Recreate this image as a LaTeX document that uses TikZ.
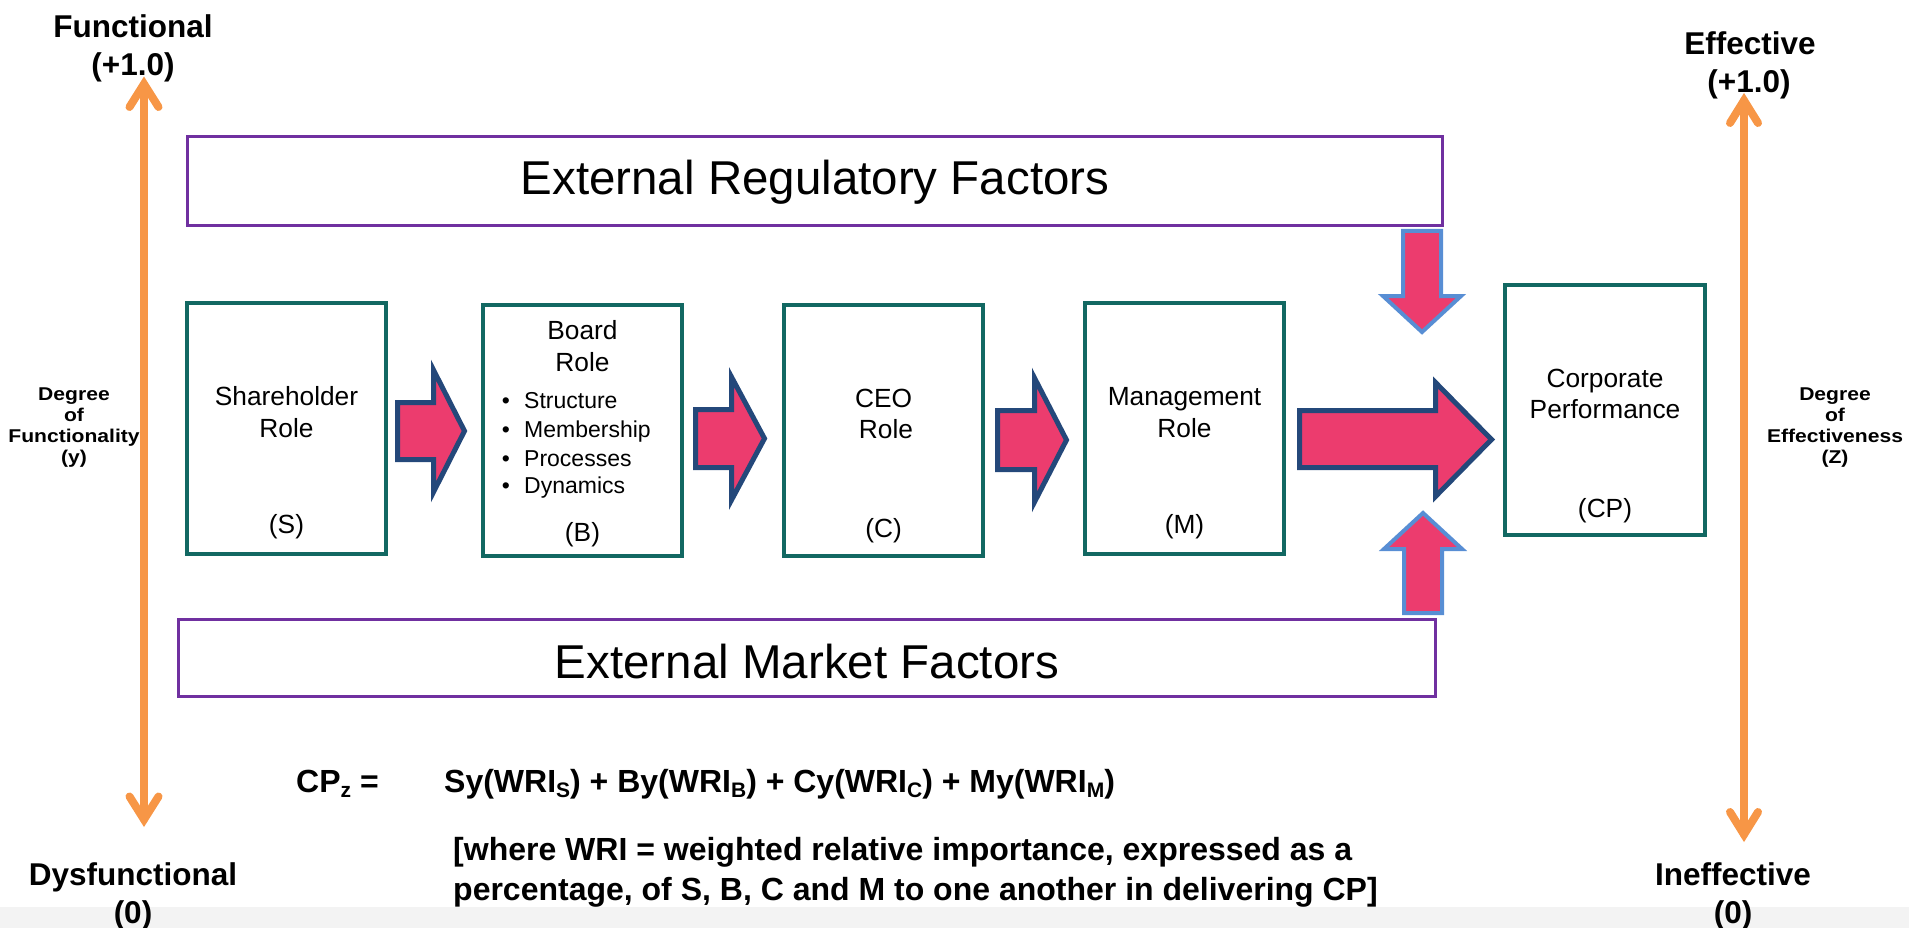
\documentclass[tikz,border=0pt]{standalone}
\usepackage{fontspec}
\setmainfont{Liberation Sans}
\newfontface\degreefont[FakeStretch=1.14]{Liberation Sans Bold}
\usetikzlibrary{calc}

\definecolor{roleteal}{RGB}{18,104,98}
\definecolor{framepurple}{RGB}{112,48,160}
\definecolor{axisorange}{RGB}{247,150,70}
\definecolor{arrowpink}{RGB}{236,60,110}
\definecolor{arrownavy}{RGB}{36,72,122}
\definecolor{arrowsky}{RGB}{88,142,212}
\definecolor{bandgray}{RGB}{243,243,243}

% lowered subscript in the current (bold) text font
\newcommand\lowsub[1]{\raisebox{-5pt}{\fontsize{21}{21}\selectfont #1}}

\begin{document}
\begin{tikzpicture}[x=1pt,y=-1pt,
  rolebox/.style={draw=roleteal, line width=4pt, inner sep=0pt, minimum width=199pt, minimum height=251pt},
  framebox/.style={draw=framepurple, line width=3pt, inner sep=0pt},
  txt/.style={anchor=base, inner sep=0pt},
  boxtxt/.style={txt, font=\fontsize{26.3}{31}\selectfont},
  bullettxt/.style={txt, anchor=base west, font=\fontsize{23}{28}\selectfont},
  bulletdot/.style={txt, font=\fontsize{23}{28}\selectfont},
  axislbl/.style={txt, font=\fontsize{31.5}{38}\selectfont\bfseries},
  degreelbl/.style={txt, font=\fontsize{18.5}{21}\degreefont},
  titletxt/.style={txt, font=\fontsize{47.5}{57}\selectfont},
  formtxt/.style={txt, anchor=base west, font=\fontsize{32}{40}\selectfont\bfseries},
  flowarrow/.style={fill=arrowpink, draw=arrownavy, line width=5pt, line join=miter},
  sidearrow/.style={fill=arrowpink, draw=arrowsky, line width=4pt, line join=miter},
  axisline/.style={draw=axisorange, line width=8pt, line cap=round, line join=miter},
]
\useasboundingbox (0,0) rectangle (1909,928);
\fill[bandgray] (0,907) rectangle (1909,928);

% external factor frames
\node[framebox, minimum width=1255pt, minimum height=89pt] (reg) at (815,181) {};
\node[titletxt] (regtitle) at (815,195) {External Regulatory Factors};
\node[framebox, minimum width=1257pt, minimum height=77pt] (mkt) at (807,658) {};
\node[titletxt] (mkttitle) at (807,678) {External Market Factors};

% role boxes
\node[rolebox] (S) at (286.5,428.5) {};
\node[rolebox] (B) at (582.5,430) {};
\node[rolebox] (C) at (883.5,430) {};
\node[rolebox] (M) at (1184.5,428.5) {};
\node[rolebox, minimum width=200pt, minimum height=250pt] (CP) at (1605,410) {};

\node[boxtxt] (s1) at (286.5,405) {Shareholder};
\node[boxtxt] (s2) at (286.5,437) {Role};
\node[boxtxt] (s3) at (286.5,533) {(S)};

\node[boxtxt] (b1) at (582.5,339) {Board};
\node[boxtxt] (b2) at (582.5,371) {Role};
\node[bulletdot] (d1) at (506,408) {\textbullet};
\node[bullettxt] (b3) at (524,408) {Structure};
\node[bulletdot] (d2) at (506,437) {\textbullet};
\node[bullettxt] (b4) at (524,437) {Membership};
\node[bulletdot] (d3) at (506,466) {\textbullet};
\node[bullettxt] (b5) at (524,466) {Processes};
\node[bulletdot] (d4) at (506,493) {\textbullet};
\node[bullettxt] (b6) at (524,493) {Dynamics};
\node[boxtxt] (b7) at (582.5,541) {(B)};

\node[boxtxt] (c1) at (883.5,407) {CEO};
\node[boxtxt] (c2) at (886,438) {Role};
\node[boxtxt] (c3) at (883.5,537) {(C)};

\node[boxtxt] (m1) at (1184.5,405) {Management};
\node[boxtxt] (m2) at (1184.5,437) {Role};
\node[boxtxt] (m3) at (1184.5,533) {(M)};

\node[boxtxt] (cp1) at (1605,387) {Corporate};
\node[boxtxt] (cp2) at (1605,418) {Performance};
\node[boxtxt] (cp3) at (1605,517) {(CP)};

% block arrows along the chain
\draw[flowarrow] (397.5,402.5) -- (433.5,402.5) -- (433.5,370) -- (464.5,431)
  -- (433.5,492) -- (433.5,459.5) -- (397.5,459.5) -- cycle;
\draw[flowarrow] (695.5,409.5) -- (731.5,409.5) -- (731.5,377) -- (764.5,438.5)
  -- (731.5,500) -- (731.5,467.5) -- (695.5,467.5) -- cycle;
\draw[flowarrow] (997.5,410.5) -- (1034.5,410.5) -- (1034.5,378) -- (1066.5,440)
  -- (1034.5,502) -- (1034.5,469.5) -- (997.5,469.5) -- cycle;
\draw[flowarrow] (1299.5,410.5) -- (1435.5,410.5) -- (1435.5,382.5) -- (1491.5,439.5)
  -- (1435.5,496.5) -- (1435.5,467.5) -- (1299.5,467.5) -- cycle;

% external influences
\draw[sidearrow] (1403,231) -- (1441,231) -- (1441,296) -- (1461,296) -- (1422,332)
  -- (1383,296) -- (1403,296) -- cycle;
\draw[sidearrow] (1404,613) -- (1442,613) -- (1442,549) -- (1462,549) -- (1423,513)
  -- (1384,549) -- (1404,549) -- cycle;

% functionality axis
\node[axislbl] (func1) at (133,37.5) {Functional};
\node[axislbl] (func2) at (133,75.5) {(+1.0)};
\node[axislbl] (dys1) at (133,885.5) {Dysfunctional};
\node[axislbl] (dys2) at (133,923.5) {(0)};
\coordinate (ltop) at (144,84);
\coordinate (lbot) at (144,819.5);
\draw[axisline] (lbot) -- (ltop);
\draw[axisline] ($(ltop)+(-14.5,23)$) -- (ltop) -- ($(ltop)+(14.5,23)$);
\draw[axisline] ($(lbot)+(-14.5,-23)$) -- (lbot) -- ($(lbot)+(14.5,-23)$);
\node[degreelbl] (fl1) at (74,400) {Degree};
\node[degreelbl] (fl2) at (74,421) {of};
\node[degreelbl] (fl3) at (74,442) {Functionality};
\node[degreelbl] (fl4) at (74,463) {(y)};

% effectiveness axis
\node[axislbl] (eff1) at (1750,54.5) {Effective};
\node[axislbl] (eff2) at (1749,92.5) {(+1.0)};
\node[axislbl] (ineff1) at (1733,885.5) {Ineffective};
\node[axislbl] (ineff2) at (1733,923.5) {(0)};
\coordinate (rtop) at (1744,100.5);
\coordinate (rbot) at (1744,834.5);
\draw[axisline] (rbot) -- (rtop);
\draw[axisline] ($(rtop)+(-14,22.5)$) -- (rtop) -- ($(rtop)+(14,22.5)$);
\draw[axisline] ($(rbot)+(-14,-22.5)$) -- (rbot) -- ($(rbot)+(14,-22.5)$);
\node[degreelbl] (el1) at (1835,400) {Degree};
\node[degreelbl] (el2) at (1835,421) {of};
\node[degreelbl] (el3) at (1835,442) {Effectiveness};
\node[degreelbl] (el4) at (1835,463) {(Z)};

% performance formula
\node[formtxt] (cpz) at (296,792) {CP\lowsub{z} =};
\node[formtxt] (sum) at (444,792) {Sy(WRI\lowsub{S}) + By(WRI\lowsub{B}) + Cy(WRI\lowsub{C}) + My(WRI\lowsub{M})};
\node[formtxt] (note1) at (453,860) {[where WRI = weighted relative importance, expressed as a};
\node[formtxt] (note2) at (453,900) {percentage, of S, B, C and M to one another in delivering CP]};
\end{tikzpicture}
\end{document}
